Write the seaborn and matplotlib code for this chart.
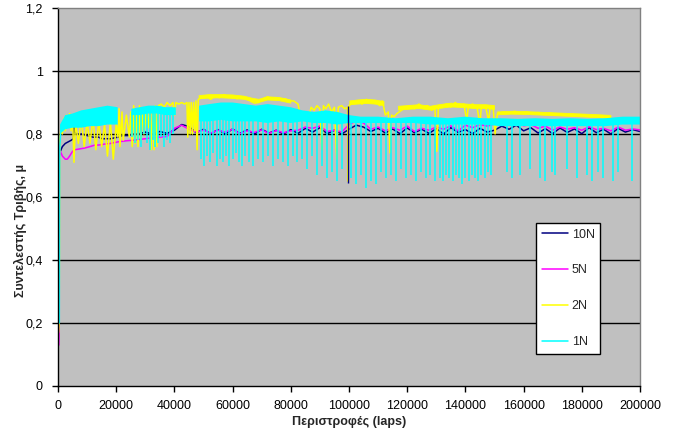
import numpy as np
import pandas as pd
import matplotlib
matplotlib.use("Agg")
import matplotlib.pyplot as plt
from matplotlib.lines import Line2D
import seaborn as sns

# ---------------- data (laps in thousands, friction coefficient mu) ----------------
loads = ["10N", "5N", "2N", "1N"]
colors = ["#000080", "#FF00FF", "#FFFF00", "#00FFFF"]

x_ticks = [0, 20000, 40000, 60000, 80000, 100000, 120000, 140000, 160000, 180000, 200000]
y_ticks = [0, 0.2, 0.4, 0.6, 0.8, 1.0, 1.2]
y_tick_labels = ["0", "0,2", "0,4", "0,6", "0,8", "1", "1,2"]

# 10N
n10_start_k = [0.2, 0.4, 0.8, 1.5, 2.5, 3.5, 4.5, 5.3, 5.5, 5.7, 6.5, 8, 10, 12, 14, 15, 16, 18, 20.6, 22, 24, 26]
n10_start_mu = [0.75, 0.73, 0.745, 0.76, 0.77, 0.775, 0.78, 0.785, 0.83, 0.805, 0.80, 0.80, 0.795, 0.79, 0.79,
                0.785, 0.785, 0.785, 0.79, 0.795, 0.795, 0.80]
n10_noise_k = np.arange(27.5, 200.01, 2.5)
n10_noise_mu = [0.800, 0.806, 0.800, 0.808, 0.802, 0.812, 0.830, 0.824, 0.804, 0.815,
                0.801, 0.814, 0.800, 0.816, 0.802, 0.813, 0.800, 0.815, 0.803, 0.812,
                0.800, 0.814, 0.802, 0.818, 0.806, 0.820, 0.801, 0.812, 0.800, 0.815,
                0.828, 0.822, 0.808, 0.818, 0.803, 0.816, 0.801, 0.819, 0.804, 0.815,
                0.802, 0.817, 0.800, 0.820, 0.805, 0.814, 0.801, 0.818, 0.806, 0.812,
                0.825, 0.815, 0.828, 0.810, 0.820, 0.803, 0.817, 0.801, 0.819, 0.805,
                0.816, 0.801, 0.820, 0.804, 0.815, 0.800, 0.818, 0.806, 0.814, 0.808]
n10_spike_k = [99.7]
n10_spike_lo = [0.645]
n10_spike_hi = [0.89]

# 5N
n5_start_k = [0.3, 0.35, 0.5, 0.8, 1.5, 2.5, 3.2, 4.0, 5.0, 5.8, 7, 9, 11, 12.7, 14, 16, 18, 20.6, 23, 25.5]
n5_start_mu = [0.13, 0.16, 0.74, 0.745, 0.73, 0.72, 0.72, 0.73, 0.745, 0.75, 0.752, 0.755, 0.76, 0.765,
               0.765, 0.768, 0.77, 0.775, 0.778, 0.78]
n5_noise_k = np.arange(27.5, 200.01, 2.5)
n5_noise_mu = [0.782, 0.785, 0.788, 0.790, 0.792, 0.818, 0.828, 0.815, 0.806, 0.812,
               0.803, 0.812, 0.806, 0.815, 0.801, 0.810, 0.805, 0.813, 0.802, 0.811,
               0.804, 0.810, 0.812, 0.822, 0.818, 0.825, 0.808, 0.812, 0.806, 0.830,
               0.842, 0.835, 0.815, 0.822, 0.810, 0.820, 0.812, 0.825, 0.808, 0.818,
               0.812, 0.822, 0.815, 0.826, 0.810, 0.828, 0.820, 0.830, 0.825, 0.832,
               0.842, 0.835, 0.840, 0.826, 0.830, 0.818, 0.825, 0.812, 0.822, 0.815,
               0.820, 0.812, 0.823, 0.814, 0.818, 0.810, 0.822, 0.812, 0.816, 0.813]

# 2N
n2_k = [0.2, 0.4, 0.6, 1.0, 1.5, 2.0, 2.5, 3.0, 3.5, 4.0, 4.5, 5.0, 5.5, 6.0,
        7, 8, 9, 10, 11, 12, 13, 14, 15, 16, 17, 18, 19, 20, 20.6,
        21.0, 21.3, 22.0, 22.4, 23.5, 24.5, 25.0,
        25.5, 26.0, 26.5, 27.0, 27.5, 28.0, 28.5, 29.0, 29.5, 30.5, 31.0, 31.6,
        32.0, 32.5, 33.0, 33.5, 34.0, 34.5,
        35.5, 36.5, 37.5, 38.5, 39.5, 40.0, 40.5, 41.5, 42.5, 43.5, 44.3,
        44.6, 45.0, 45.4, 45.8, 46.2, 46.6, 47.0, 47.4, 47.8, 48.2,
        49.5, 51, 52.5, 54, 55.5, 57, 58.5, 60, 61.5, 63, 64.5,
        66, 67.5, 69, 70.5, 72, 73.5, 75, 76.5, 78, 79.5,
        81, 82.5, 83.2, 84, 85, 86, 87, 88, 89, 90,
        90.7, 91.2, 92, 93, 94, 95, 95.8, 96.3, 97.5, 98.5, 99.5, 99.7, 100.0,
        101.5, 103, 104.5, 106, 107.5, 109, 110.5, 111.5, 112.5, 113.5, 114.1, 114.6, 115.5, 116.5,
        118, 119.5, 121, 122.5, 124, 125.5, 127, 128.5, 129.5, 130.2, 130.7,
        132, 133.5, 135, 136.5, 138, 139.5, 140.5, 141, 142.5, 144, 145, 145.5, 147, 148, 148.5, 149.5, 150.2,
        151, 153, 155, 157, 159, 161, 163, 165, 167, 169, 171, 173, 175,
        177, 179, 181, 183, 185, 187, 189, 191, 193, 195, 197, 200]
n2_mu = [0.17, 0.20, 0.78, 0.82, 0.80, 0.85, 0.81, 0.86, 0.82, 0.865, 0.81, 0.85, 0.71, 0.84,
         0.77, 0.85, 0.76, 0.84, 0.77, 0.85, 0.75, 0.84, 0.76, 0.83, 0.73, 0.84, 0.72, 0.83, 0.79,
         0.88, 0.76, 0.87, 0.78, 0.86, 0.79, 0.87,
         0.76, 0.89, 0.77, 0.88, 0.76, 0.89, 0.78, 0.88, 0.80, 0.88, 0.82, 0.88,
         0.75, 0.88, 0.75, 0.89, 0.76, 0.89,
         0.895, 0.885, 0.90, 0.89, 0.90, 0.86, 0.90, 0.895, 0.90, 0.895, 0.90,
         0.79, 0.90, 0.80, 0.90, 0.80, 0.90, 0.81, 0.905, 0.75, 0.91,
         0.915, 0.92, 0.91, 0.922, 0.915, 0.925, 0.918, 0.92, 0.912, 0.918, 0.915,
         0.905, 0.898, 0.90, 0.912, 0.918, 0.912, 0.915, 0.91, 0.912, 0.905,
         0.905, 0.895, 0.86, 0.845, 0.87, 0.85, 0.885, 0.875, 0.89, 0.88,
         0.75, 0.89, 0.88, 0.895, 0.87, 0.885, 0.72, 0.885, 0.89, 0.88, 0.885, 0.65, 0.89,
         0.90, 0.905, 0.895, 0.91, 0.90, 0.905, 0.89, 0.905, 0.86, 0.87, 0.74, 0.86, 0.855, 0.865,
         0.875, 0.885, 0.89, 0.88, 0.895, 0.885, 0.89, 0.875, 0.885, 0.745, 0.885,
         0.89, 0.895, 0.885, 0.90, 0.89, 0.895, 0.84, 0.89, 0.895, 0.885, 0.83, 0.89, 0.885, 0.84, 0.885, 0.89, 0.80,
         0.865, 0.87, 0.868, 0.872, 0.866, 0.87, 0.865, 0.868, 0.862, 0.866, 0.86, 0.864, 0.86,
         0.862, 0.858, 0.86, 0.855, 0.858, 0.852, 0.855, 0.84, 0.845, 0.835, 0.84, 0.835]
n2_band_k = [48.5, 52, 56, 60, 64, 67, 69, 72, 76, 80, 80.1,
             100.3, 103, 106, 109, 112, 112.1,
             117, 120, 124, 128, 131, 135, 139, 143, 147, 150, 150.1,
             151, 156, 161, 166, 171, 176, 181, 186, 190]
n2_band_hi = [0.922, 0.925, 0.925, 0.924, 0.92, 0.913, 0.91, 0.918, 0.916, 0.908, np.nan,
              0.905, 0.908, 0.91, 0.908, 0.903, np.nan,
              0.888, 0.89, 0.893, 0.888, 0.893, 0.898, 0.896, 0.893, 0.893, 0.89, np.nan,
              0.87, 0.872, 0.871, 0.869, 0.867, 0.865, 0.863, 0.861, 0.859]
n2_band_lo = [0.912, 0.914, 0.915, 0.913, 0.91, 0.903, 0.90, 0.908, 0.906, 0.898, np.nan,
              0.893, 0.895, 0.897, 0.895, 0.89, np.nan,
              0.876, 0.878, 0.881, 0.876, 0.881, 0.886, 0.884, 0.881, 0.881, 0.878, np.nan,
              0.861, 0.863, 0.862, 0.86, 0.858, 0.856, 0.854, 0.852, 0.85]

# 1N
n1_start_k = [0.45, 0.5, 0.6, 0.9]
n1_start_mu = [0.20, 0.50, 0.76, 0.80]
n1_band_k = [0.7, 2.5, 5, 8, 11, 14, 17, 20.5, 20.6,
             25.2, 28, 31, 34, 37, 40.5, 40.6,
             48.5, 52, 56, 60, 64, 68, 72, 76, 80, 84,
             88, 92, 96, 100, 104, 110, 116, 122, 128, 134,
             140, 146, 152, 158, 164, 170, 176, 182, 188, 194, 200]
n1_band_hi = [0.83, 0.86, 0.865, 0.875, 0.88, 0.885, 0.89, 0.885, np.nan,
              0.88, 0.885, 0.89, 0.89, 0.885, 0.885, np.nan,
              0.89, 0.895, 0.9, 0.9, 0.895, 0.89, 0.895, 0.89, 0.885, 0.875,
              0.87, 0.875, 0.87, 0.86, 0.855, 0.855, 0.85, 0.855, 0.855, 0.85,
              0.855, 0.85, 0.85, 0.848, 0.85, 0.848, 0.85, 0.848, 0.85, 0.855, 0.855]
n1_band_lo = [0.80, 0.815, 0.82, 0.82, 0.825, 0.825, 0.83, 0.83, np.nan,
              0.86, 0.86, 0.865, 0.865, 0.86, 0.86, np.nan,
              0.84, 0.84, 0.845, 0.84, 0.84, 0.84, 0.835, 0.84, 0.835, 0.84,
              0.835, 0.835, 0.83, 0.835, 0.835, 0.835, 0.835, 0.835, 0.83, 0.83,
              0.83, 0.83, 0.825, 0.825, 0.825, 0.825, 0.825, 0.825, 0.825, 0.83, 0.83]
n1_spike_k = [25.5, 26.5, 27.5, 28.5, 29.5, 30.5, 31.5, 32.5, 33.5, 34.5, 35.5, 36.5, 37.5, 38.5, 39.5,
              49.0, 50.1, 51.2, 52.3, 53.4, 54.5, 55.6, 56.7, 57.8, 58.9, 60.0, 61.1, 62.2, 63.3, 64.4, 65.5,
              67.0, 68.7, 70.4, 72.1, 73.8, 75.5, 77.2, 78.9, 80.6, 82.3,
              84.0, 85.7, 87.4, 89.1, 90.8, 92.5, 94.2, 95.9, 97.6,
              100.8, 102.5, 104.2, 105.9, 107.6, 109.3, 111.0, 112.7, 114.4, 116.1, 117.8, 119.5, 121.2,
              122.9, 124.6, 126.3, 128.0, 129.7,
              131.2, 132.3, 133.4, 134.5, 135.6, 136.7, 137.8, 138.9, 140.0, 141.1, 142.2, 143.3, 144.4,
              145.5, 146.6, 147.7, 148.8,
              154.3, 156.0, 158.8, 162.2, 165.6, 167.4, 169.8, 170.8, 175.0, 178.4, 181.8, 183.5, 185.6,
              187.3, 190.7, 192.4, 197.2]
n1_spike_lo = [0.79, 0.77, 0.78, 0.76, 0.80, 0.77, 0.75, 0.78, 0.76, 0.77, 0.79, 0.76, 0.78, 0.77, 0.80,
               0.72, 0.70, 0.73, 0.71, 0.74, 0.70, 0.72, 0.71, 0.73, 0.70, 0.72, 0.74, 0.71, 0.70, 0.73, 0.71,
               0.70, 0.72, 0.71, 0.73, 0.70, 0.72, 0.71, 0.70, 0.73, 0.71,
               0.72, 0.69, 0.73, 0.67, 0.70, 0.66, 0.68, 0.65, 0.69,
               0.66, 0.64, 0.67, 0.63, 0.65, 0.64, 0.68, 0.66, 0.67, 0.65, 0.69, 0.66, 0.67,
               0.65, 0.68, 0.66, 0.67, 0.65,
               0.66, 0.65, 0.67, 0.66, 0.65, 0.67, 0.66, 0.64, 0.66, 0.65, 0.67, 0.66, 0.65,
               0.67, 0.66, 0.68, 0.67,
               0.68, 0.66, 0.67, 0.69, 0.66, 0.65, 0.68, 0.67, 0.69, 0.66, 0.67, 0.65, 0.68,
               0.66, 0.65, 0.68, 0.65]
n1_spike_hi = [0.87] * 15 + [0.86] * 16 + [0.86] * 10 + [0.855] * 9 + [0.845] * 18 + [0.84] * 17 + [0.835] * 17

# ---------------- build long table ----------------
def seg(load, k, mu):
    n = min(len(k), len(mu))
    return pd.DataFrame({"laps": np.asarray(k[:n], dtype=float) * 1000,
                         "mu": np.asarray(mu[:n], dtype=float), "load": load})

df = pd.concat([
    seg("10N", list(n10_start_k) + list(n10_noise_k), list(n10_start_mu) + list(n10_noise_mu)),
    seg("5N", list(n5_start_k) + list(n5_noise_k), list(n5_start_mu) + list(n5_noise_mu)),
    seg("2N", n2_k, n2_mu),
    seg("1N", n1_start_k, n1_start_mu),
], ignore_index=True)

# ---------------- figure ----------------
sns.set_style("white")
plt.rcParams['font.family'] = ['Liberation Sans', 'DejaVu Sans']
fig = plt.figure(figsize=(6.82, 4.32), dpi=100)
ax = fig.add_axes([58 / 682, 46 / 432, 582 / 682, 378 / 432])
ax.set_facecolor("#C0C0C0")

for yv in y_ticks[1:-1]:
    ax.axhline(yv, color="black", lw=1.0, zorder=1)

pal = dict(zip(loads, colors))
sns.lineplot(data=df, x="laps", y="mu", hue="load", hue_order=loads, palette=pal,
             sort=False, estimator=None, lw=1.1, legend=False, ax=ax, zorder=2)

# 2N thicker upper trace
ax.fill_between(np.array(n2_band_k) * 1000, n2_band_lo, n2_band_hi, color=pal["2N"], lw=0.6,
                edgecolor=pal["2N"], zorder=2.2)
# 1N dense band and spikes
ax.fill_between(np.array(n1_band_k) * 1000, n1_band_lo, n1_band_hi, color=pal["1N"], lw=0, zorder=2.5)
ax.vlines(np.array(n1_spike_k) * 1000, n1_spike_lo, n1_spike_hi, colors=pal["1N"], lw=1.1, zorder=2.5)
ax.vlines(np.array(n10_spike_k) * 1000, n10_spike_lo, n10_spike_hi, colors=pal["10N"], lw=1.0, zorder=2.6)

ax.set_xlim(0, 200000)
ax.set_ylim(0, 1.2)
ax.set_xticks(x_ticks)
ax.set_xticklabels([str(v) for v in x_ticks])
ax.set_yticks(y_ticks)
ax.set_yticklabels(y_tick_labels)
ax.tick_params(axis="both", which="both", direction="out", length=4, width=1, color="black",
               labelsize=9, labelcolor="black", bottom=True, left=True)
ax.tick_params(axis="x", pad=6)
ax.tick_params(axis="y", pad=7)

for s in ["left", "bottom"]:
    ax.spines[s].set_color("black")
    ax.spines[s].set_linewidth(1)
for s in ["top", "right"]:
    ax.spines[s].set_color("#808080")
    ax.spines[s].set_linewidth(1)

ax.set_xlabel("Περιστροφές (laps)", fontsize=9, fontweight="bold")
ax.set_ylabel("Συντελεστής Τριβής, μ", fontsize=9, fontweight="bold")
ax.xaxis.set_label_coords(0.5, -(422 - 386) / 378)
ax.yaxis.set_label_coords(-(58 - 20) / 582, (386 - 230) / 378)
ax.xaxis.label.set_va("center")
ax.yaxis.label.set_va("center")

handles = [Line2D([0], [0], color=c, lw=1.1) for c in colors]
leg = ax.legend(handles, loads, loc="upper left",
                bbox_to_anchor=((536 - 58) / 582, (386 - 223) / 378),
                borderaxespad=0, frameon=True, fancybox=False, fontsize=9,
                handlelength=2.1, handletextpad=0.3, labelspacing=1.9, borderpad=0.45)
leg.get_frame().set_edgecolor("black")
leg.get_frame().set_facecolor("white")
leg.get_frame().set_linewidth(1)
leg.get_frame().set_alpha(1)

fig.patch.set_facecolor("white")
fig.savefig("out.png", dpi=100, facecolor="white")
